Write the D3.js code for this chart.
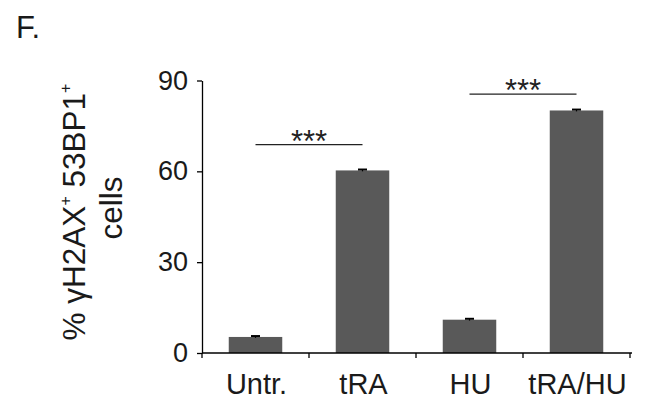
<!DOCTYPE html>
<html>
<head>
<meta charset="utf-8">
<script src="https://cdn.jsdelivr.net/npm/d3@7"></script>
<style>
  html, body { margin: 0; padding: 0; background: #fff; }
  svg { display: block; font-family: "Liberation Sans", Arial, sans-serif; }
</style>
</head>
<body>
<svg id="chart" width="648" height="401"></svg>
<script>
// ---- data ----
const categories = ["Untr.", "tRA", "HU", "tRA/HU"];
const values = [5.3, 60.3, 11.0, 80.1];
const errors = [0.3, 0.3, 0.3, 0.3];
const yTicks = [0, 30, 60, 90];
const sigFrom = ["Untr.", "HU"];
const sigTo = ["tRA", "tRA/HU"];
const sigLevel = [68.8, 85.5];
const sigLabel = ["***", "***"];

// ---- layout ----
const svg = d3.select("#chart");
const x = d3.scaleBand().domain(categories).range([202, 630]).paddingInner(0.5).paddingOuter(0.25);
const y = d3.scaleLinear().domain([0, 90]).range([353, 80.5]);
const barColor = "#595959";

// panel letter
svg.append("text").attr("x", 16).attr("y", 38).attr("font-size", 31).attr("fill", "#1a1a1a").text("F.");

// bars
svg.selectAll("rect.bar").data(values).enter().append("rect")
  .attr("class", "bar")
  .attr("x", (d, i) => x(categories[i]))
  .attr("width", x.bandwidth())
  .attr("y", d => y(d))
  .attr("height", d => y(0) - y(d))
  .attr("fill", barColor);

// error bars
const eb = svg.selectAll("g.err").data(values).enter().append("g").attr("class", "err");
eb.append("line")
  .attr("x1", (d, i) => x(categories[i]) + x.bandwidth() / 2)
  .attr("x2", (d, i) => x(categories[i]) + x.bandwidth() / 2)
  .attr("y1", (d, i) => y(d - errors[i]))
  .attr("y2", (d, i) => y(d + errors[i]))
  .attr("stroke", "#000").attr("stroke-width", 1.2);
eb.append("line")
  .attr("x1", (d, i) => x(categories[i]) + x.bandwidth() / 2 - 4.5)
  .attr("x2", (d, i) => x(categories[i]) + x.bandwidth() / 2 + 4.5)
  .attr("y1", (d, i) => y(d + errors[i]))
  .attr("y2", (d, i) => y(d + errors[i]))
  .attr("stroke", "#000").attr("stroke-width", 2);

// y axis
const yAxis = d3.axisLeft(y).tickValues(yTicks).tickSize(5).tickPadding(9).tickSizeOuter(0);
const gy = svg.append("g").attr("transform", "translate(202,0)").call(yAxis);
gy.select(".domain").attr("stroke", "#000").attr("stroke-width", 1.3);
gy.selectAll(".tick line").attr("stroke", "#000").attr("stroke-width", 1.3);
gy.selectAll(".tick text").attr("font-size", 27).attr("fill", "#1a1a1a")
  .attr("font-family", "Liberation Sans, Arial, sans-serif");

// x axis
const boundaries = categories.map(c => x(c) - (x.step() - x.bandwidth()) / 2).concat([630]);
svg.append("line").attr("x1", 202).attr("x2", 632).attr("y1", y(0)).attr("y2", y(0))
  .attr("stroke", "#000").attr("stroke-width", 1.3);
svg.selectAll("line.xt").data(boundaries).enter().append("line")
  .attr("class", "xt")
  .attr("x1", d => d).attr("x2", d => d)
  .attr("y1", y(0)).attr("y2", y(0) + 5)
  .attr("stroke", "#000").attr("stroke-width", 1.3);
svg.selectAll("text.xl").data(categories).enter().append("text")
  .attr("class", "xl")
  .attr("x", d => x(d) + x.bandwidth() / 2 + 1)
  .attr("y", 394)
  .attr("text-anchor", "middle")
  .attr("font-size", 29)
  .attr("fill", "#1a1a1a")
  .text(d => d);

// significance brackets
sigFrom.forEach((f, i) => {
  const x1 = x(f) + x.bandwidth() / 2;
  const x2 = x(sigTo[i]) + x.bandwidth() / 2;
  const yy = y(sigLevel[i]);
  svg.append("line").attr("x1", x1).attr("x2", x2).attr("y1", yy).attr("y2", yy)
    .attr("stroke", "#222").attr("stroke-width", 1.3);
  svg.append("text").attr("x", (x1 + x2) / 2).attr("y", yy + 7)
    .attr("text-anchor", "middle").attr("font-size", 31).attr("fill", "#222")
    .text(sigLabel[i]);
});

// y label (rotated, two lines)
const yl = svg.append("text")
  .attr("transform", "translate(85,212) rotate(-90)")
  .attr("text-anchor", "middle")
  .attr("font-size", 31.5)
  .attr("fill", "#1a1a1a");
yl.append("tspan").text("% γH2AX");
yl.append("tspan").attr("font-size", 16).attr("dy", -14).text("+");
yl.append("tspan").attr("dy", 14).text(" 53BP1");
yl.append("tspan").attr("font-size", 16).attr("dy", -14).text("+");
svg.append("text")
  .attr("transform", "translate(122,208) rotate(-90)")
  .attr("text-anchor", "middle")
  .attr("font-size", 31.5)
  .attr("fill", "#1a1a1a")
  .text("cells");
</script>
</body>
</html>
